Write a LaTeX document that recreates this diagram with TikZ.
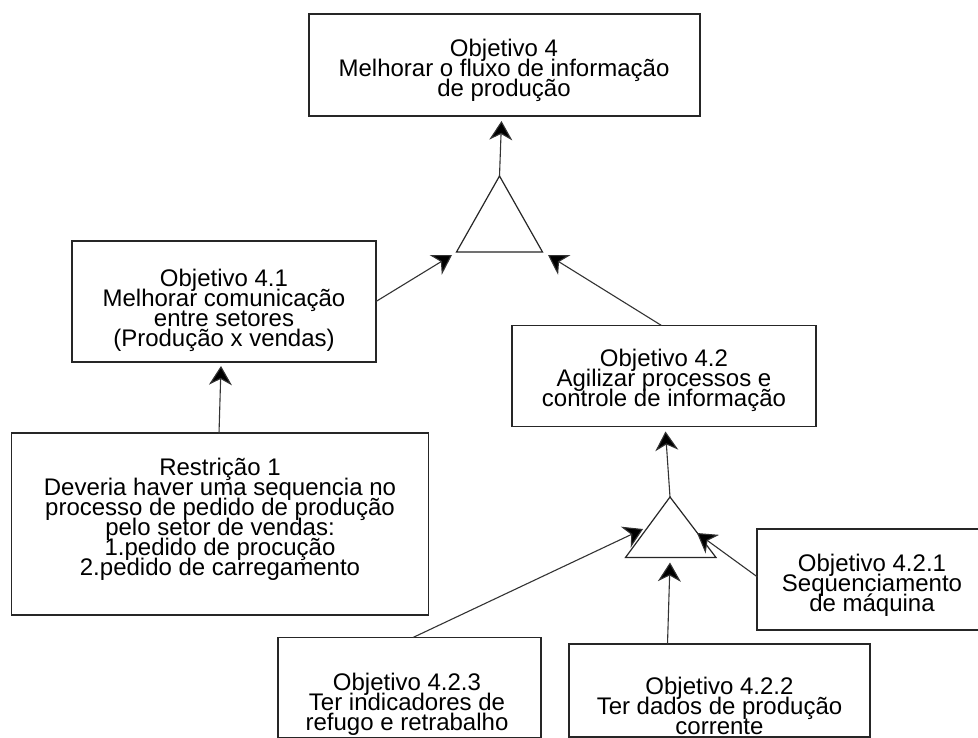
\documentclass[tikz,border=0pt]{standalone}
\usepackage{fontspec}
\setmainfont{Liberation Sans}
\usetikzlibrary{arrows.meta}
% box text: 24pt type on a tight 20pt line pitch
\newcommand\goalfont{\fontsize{24}{20}\selectfont\lineskiplimit-40pt\lineskip0pt\relax}
\begin{document}
\begin{tikzpicture}[x=1pt,y=-1pt,
  box/.style={draw=black!85,line width=1.2pt,rectangle,inner sep=0pt},
  txt/.style={align=center,inner sep=0pt,anchor=base,font=\goalfont},
  arr/.style={draw=black!80,line width=1.1pt,-{Stealth[length=19pt,width=23pt,inset=6pt,fill=black]}},
  tri/.style={draw=black!85,line width=1.2pt,line join=miter}]
\useasboundingbox[fill=white] (0,0) rectangle (978,738);

% goal boxes (y grows downwards); text nodes sit on the baseline of their last line
\node[box,minimum width=391pt,minimum height=102pt] (o4) at (504.5,65) {};
\node[txt] (o4t) at (504,97) {Objetivo 4\\Melhorar o fluxo de informação\\de produção};

\node[box,minimum width=304pt,minimum height=121pt] (o41) at (224,301.5) {};
\node[txt] (o41t) at (224,346) {Objetivo 4.1\\Melhorar comunicação\\entre setores\\(Produção x vendas)};

\node[box,minimum width=304pt,minimum height=101pt] (o42) at (664,376) {};
\node[txt] (o42t) at (664,406.5) {Objetivo 4.2\\Agilizar processos e\\controle de informação};

\node[box,minimum width=417pt,minimum height=182pt] (r1) at (219.7,524) {};
\node[txt] (r1t) at (220,575) {Restrição 1\\Deveria haver uma sequencia no\\processo de pedido de produção\\pelo setor de vendas:\\1.pedido de procução\\2.pedido de carregamento};

\node[box,minimum width=230pt,minimum height=101pt] (o421) at (872,579.5) {};
\node[txt] (o421t) at (872,611.5) {Objetivo 4.2.1\\Sequenciamento\\de máquina};

\node[box,minimum width=263pt,minimum height=100pt] (o423) at (409.5,687.5) {};
\node[txt] (o423t) at (407,730) {Objetivo 4.2.3\\Ter indicadores de\\refugo e retrabalho};

\node[box,minimum width=301pt,minimum height=93pt] (o422) at (719.5,690.5) {};
\node[txt] (o422t) at (719.5,734.5) {Objetivo 4.2.2\\Ter dados de produção\\corrente};

% AND triangles
\coordinate (t1a) at (499.5,176);
\coordinate (t1l) at (456.5,252);
\coordinate (t1r) at (542.5,252);
\draw[tri] (t1a) -- (t1l) -- (t1r) -- cycle;

\coordinate (t2a) at (670,497);
\coordinate (t2l) at (625.5,557.5);
\coordinate (t2r) at (716,557.5);
\draw[tri] (t2a) -- (t2l) -- (t2r) -- cycle;

% arrow end points
\coordinate (t1top) at (501.5,121);
\coordinate (t1inl) at (452,255);
\coordinate (t1inr) at (548,255);
\coordinate (o41src) at (376,301.5);
\coordinate (o42src) at (661.5,325.5);
\coordinate (r1src) at (219,433.5);
\coordinate (o41in) at (221,366);
\coordinate (t2top) at (665.5,431.5);
\coordinate (t2inl) at (643,529);
\coordinate (t2inr) at (697,533);
\coordinate (t2inb) at (670,562.5);
\coordinate (o423src) at (413,637.5);
\coordinate (o421src) at (757.5,577);
\coordinate (o422src) at (667.5,644);

% connectors
\draw[arr] (t1a) -- (t1top);
\draw[arr] (o41src) -- (t1inl);
\draw[arr] (o42src) -- (t1inr);
\draw[arr] (r1src) -- (o41in);
\draw[arr] (t2a) -- (t2top);
\draw[arr] (o423src) -- (t2inl);
\draw[arr] (o421src) -- (t2inr);
\draw[arr] (o422src) -- (t2inb);
\end{tikzpicture}
\end{document}
